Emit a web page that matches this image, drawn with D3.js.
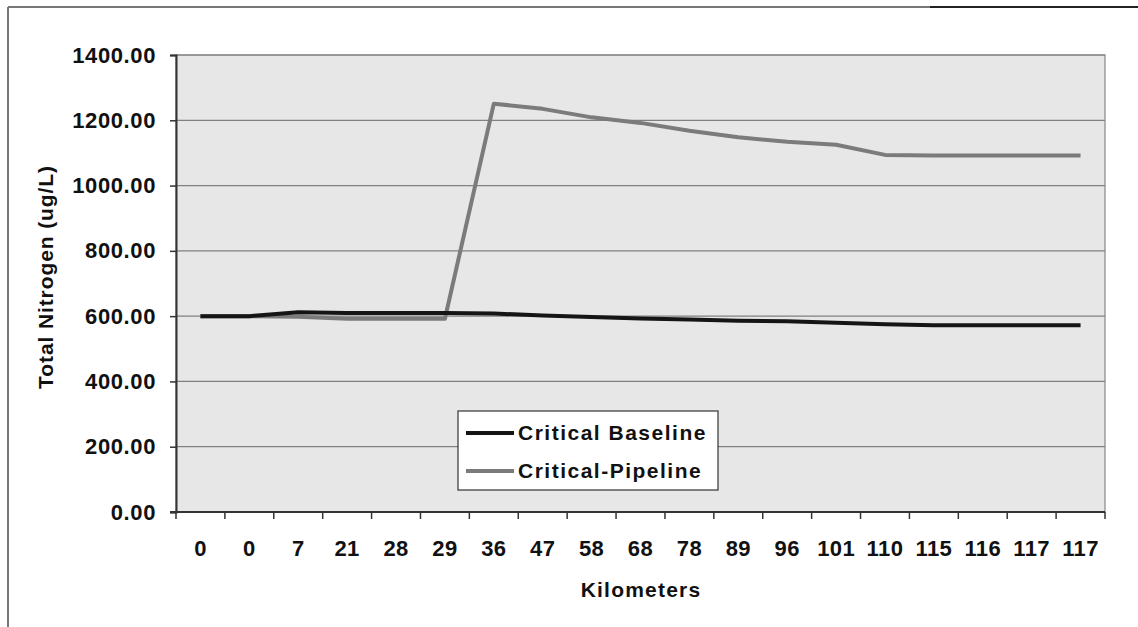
<!DOCTYPE html>
<html>
<head>
<meta charset="utf-8">
<script src="https://cdn.jsdelivr.net/npm/d3@7"></script>
<style>
  body { margin: 0; background: #fff; }
  text { font-family: "Liberation Sans", Arial, sans-serif; font-weight: bold; fill: #111; }
</style>
</head>
<body>
<svg></svg>
<script>
// chart data
const km = ["0", "0", "7", "21", "28", "29", "36", "47", "58", "68", "78", "89", "96", "101", "110", "115", "116", "117", "117"];
const baseline = [600, 600, 612, 610, 610, 610, 608, 602, 597, 593, 590, 586, 584, 580, 575, 572, 572, 572, 572];
const pipeline = [600, 600, 598, 592, 592, 592, 1251, 1235, 1209, 1192, 1168, 1148, 1134, 1125, 1094, 1092, 1092, 1092, 1092];
const yTicks = [0, 200, 400, 600, 800, 1000, 1200, 1400];

const width = 1138;
const height = 627;
const plotL = 176, plotR = 1105, plotT = 55, plotB = 512;

let svg = d3.select("svg")
    .attr("width", width)
    .attr("height", height)

// outer frame (top and left edges only, like the scan)
svg.append("line").attr("x1", 8).attr("x2", width).attr("y1", 7).attr("y2", 7)
    .attr("stroke", "#777").attr("stroke-width", 2)
svg.append("line").attr("x1", 930).attr("x2", width).attr("y1", 7).attr("y2", 7)
    .attr("stroke", "#222").attr("stroke-width", 2)
svg.append("line").attr("x1", 8).attr("x2", 8).attr("y1", 7).attr("y2", height)
    .attr("stroke", "#777").attr("stroke-width", 2)

const x = d3.scaleBand().domain(d3.range(km.length)).range([plotL, plotR]);
const y = d3.scaleLinear().domain([0, 1400]).range([plotB, plotT]);

// plot area
svg.append("rect")
    .attr("x", plotL).attr("y", plotT)
    .attr("width", plotR - plotL).attr("height", plotB - plotT)
    .attr("fill", "#e7e7e7")
    .attr("stroke", "#888").attr("stroke-width", 1.2)

// gridlines
svg.append("g")
    .selectAll("line")
    .data(yTicks.slice(1))
    .join("line")
    .attr("x1", plotL).attr("x2", plotR)
    .attr("y1", d => y(d)).attr("y2", d => y(d))
    .attr("stroke", "#808080").attr("stroke-width", 1.2)

// y axis
const yAxis = svg.append("g")
    .attr("transform", `translate(${plotL},0)`)
    .call(d3.axisLeft(y).tickValues(yTicks).tickFormat(d3.format(".2f")).tickSize(6).tickPadding(14))
yAxis.select(".domain").attr("stroke", "#333").attr("stroke-width", 2)
yAxis.selectAll(".tick line").attr("stroke", "#333").attr("stroke-width", 1.5)
yAxis.selectAll("text")
    .attr("font-size", 22).attr("letter-spacing", 0.6)
    .attr("font-family", "Liberation Sans, Arial, sans-serif").attr("font-weight", "bold").attr("fill", "#111")

// x axis, ticks between categories
const xAxis = svg.append("g")
    .attr("transform", `translate(0,${plotB})`)
xAxis.append("line").attr("x1", plotL - 6).attr("x2", plotR).attr("y1", 0).attr("y2", 0)
    .attr("stroke", "#333").attr("stroke-width", 2)
xAxis.selectAll(".xt")
    .data(d3.range(km.length + 1))
    .join("line")
    .attr("class", "xt")
    .attr("x1", d => plotL + d * x.step()).attr("x2", d => plotL + d * x.step())
    .attr("y1", 0).attr("y2", 7)
    .attr("stroke", "#333").attr("stroke-width", 1.5)
xAxis.selectAll(".xl")
    .data(km)
    .join("text")
    .attr("class", "xl")
    .attr("x", (d, i) => x(i) + x.bandwidth() / 2)
    .attr("y", 44)
    .attr("text-anchor", "middle")
    .attr("font-size", 22).attr("letter-spacing", 0.4)
    .text(d => d)

// axis titles
svg.append("text")
    .attr("x", 641).attr("y", 597)
    .attr("text-anchor", "middle")
    .attr("font-size", 21).attr("letter-spacing", 1.2)
    .text("Kilometers")

svg.append("text")
    .attr("transform", "translate(53,277) rotate(-90)")
    .attr("text-anchor", "middle")
    .attr("font-size", 21).attr("letter-spacing", 0.9)
    .text("Total Nitrogen (ug/L)")

// lines
const line = d3.line()
    .x((d, i) => x(i) + x.bandwidth() / 2)
    .y(d => y(d))

svg.append("path")
    .datum(pipeline)
    .attr("d", line)
    .attr("fill", "none")
    .attr("stroke", "#7b7b7b")
    .attr("stroke-width", 4)
    .attr("stroke-linejoin", "round")

svg.append("path")
    .datum(baseline)
    .attr("d", line)
    .attr("fill", "none")
    .attr("stroke", "#151515")
    .attr("stroke-width", 4)
    .attr("stroke-linejoin", "round")

// legend
const legend = svg.append("g").attr("transform", "translate(458,411)")
legend.append("rect")
    .attr("width", 260).attr("height", 79)
    .attr("fill", "#fff").attr("stroke", "#333").attr("stroke-width", 1.2)

const legendItems = [
    { name: "Critical Baseline", color: "#151515" },
    { name: "Critical-Pipeline", color: "#7b7b7b" }
];
const li = legend.selectAll(".li")
    .data(legendItems)
    .join("g")
    .attr("class", "li")
    .attr("transform", (d, i) => `translate(0,${22 + i * 38})`)
li.append("line")
    .attr("x1", 8).attr("x2", 56)
    .attr("stroke", d => d.color).attr("stroke-width", 4)
li.append("text")
    .attr("x", 60).attr("y", 7)
    .attr("font-size", 21).attr("letter-spacing", 1.5)
    .text(d => d.name)
</script>
</body>
</html>
